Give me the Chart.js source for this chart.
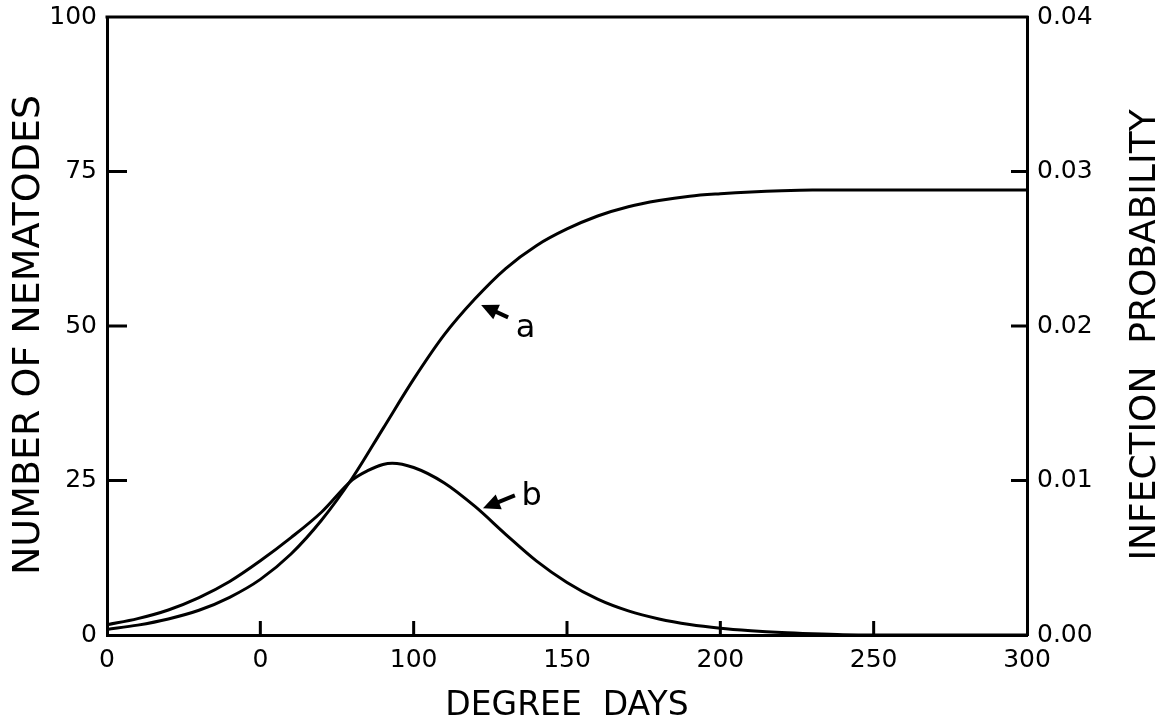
<!DOCTYPE html>
<html>
<head>
<meta charset="utf-8">
<script src="https://cdn.jsdelivr.net/npm/chart.js@4.4.1/dist/chart.umd.min.js"></script>
<style>
  html, body { margin: 0; padding: 0; background: #fff; }
  #wrap { width: 1167px; height: 725px; }
</style>
</head>
<body>
<div id="wrap"><canvas id="nematodeChart" width="1167" height="725"></canvas></div>
<script>
/**************************************************
 * DATA
 **************************************************/
// curve a : number of nematodes (left axis)
const degreeDaysA = [0, 10, 20, 30, 40, 50, 60, 70, 80, 90, 100, 110, 120, 130, 140, 150,
  160, 170, 180, 190, 200, 210, 220, 230, 240, 250, 260, 270, 280, 290, 300];
const nematodesA = [0.9, 1.6, 2.6, 4.0, 6.1, 9.0, 13.1, 18.6, 25.4, 33.4, 41.4, 48.6, 54.4, 59.3, 63.0, 65.7,
  67.8, 69.3, 70.3, 71.0, 71.4, 71.7, 71.9, 72, 72, 72, 72, 72, 72, 72, 72];

// curve b : infection probability (right axis)
const degreeDaysB = [0, 10, 20, 30, 40, 50, 60, 70, 80, 85, 90, 93, 100, 110, 120, 130, 140,
  150, 160, 170, 180, 190, 200, 210, 220, 230, 240, 250, 300];
const probabilityB = [0.00066, 0.00106, 0.00162, 0.00242, 0.00346, 0.0048, 0.0063, 0.00796, 0.01004,
  0.01064, 0.01104, 0.01112, 0.01084, 0.00984, 0.00832, 0.00652, 0.0048, 0.0034, 0.00232, 0.00156,
  0.00104, 0.00068, 0.00044, 0.00028, 0.00016, 0.00008, 0.00002, 0, 0];

// tick labels (as printed)
const xTickLabels = ["0", "0", "100", "150", "200", "250", "300"];
const xTickValues = [0, 50, 100, 150, 200, 250, 300];
const leftTickValues = [0, 25, 50, 75, 100];
const rightTickValues = [0, 0.01, 0.02, 0.03, 0.04];

// curve labels with arrow (data units of left axis)
const curveLabels = ["a", "b"];
const arrowHeads = [[122, 53.4], [122.6, 20.5]];
const arrowTails = [[130.8, 51.4], [133, 22.6]];
const labelSpots = [[136.5, 49.6], [138.5, 22.4]];

/**************************************************
 * DECORATIONS (frame top, inward ticks, titles, labels)
 **************************************************/
const decorations = {
  id: "decorations",
  afterDraw(chart) {
    const { ctx, chartArea, scales } = chart;
    const { x, y, y2 } = scales;
    ctx.save();
    ctx.strokeStyle = "#000";
    ctx.fillStyle = "#000";
    ctx.lineWidth = 3;

    // top of the frame
    ctx.beginPath();
    ctx.moveTo(chartArea.left - 1.5, chartArea.top);
    ctx.lineTo(chartArea.right + 1.5, chartArea.top);
    ctx.stroke();

    // inward ticks
    ctx.beginPath();
    [25, 50, 75].forEach(v => {
      const py = y.getPixelForValue(v);
      ctx.moveTo(chartArea.left, py);
      ctx.lineTo(chartArea.left + 20, py);
    });
    [0.01, 0.02, 0.03].forEach(v => {
      const py = y2.getPixelForValue(v);
      ctx.moveTo(chartArea.right, py);
      ctx.lineTo(chartArea.right - 16, py);
    });
    [50, 100, 150, 200, 250].forEach(v => {
      const px = x.getPixelForValue(v);
      ctx.moveTo(px, chartArea.bottom);
      ctx.lineTo(px, chartArea.bottom - 14);
    });
    ctx.stroke();

    // axis titles
    const midY = (chartArea.top + chartArea.bottom) / 2 + 9;
    ctx.textAlign = "center";
    ctx.textBaseline = "middle";

    ctx.font = '38px "DejaVu Sans"';
    ctx.save();
    ctx.translate(29, midY);
    ctx.rotate(-Math.PI / 2);
    ctx.fillText("NUMBER OF NEMATODES", 0, 0);
    ctx.restore();

    ctx.font = '36px "DejaVu Sans"';
    ctx.save();
    ctx.translate(1146, midY);
    ctx.rotate(-Math.PI / 2);
    ctx.fillText("INFECTION  PROBABILITY", 0, 0);
    ctx.restore();

    ctx.font = '33px "DejaVu Sans"';
    ctx.fillText("DEGREE  DAYS", (chartArea.left + chartArea.right) / 2, chartArea.bottom + 71);

    // curve labels and arrows
    ctx.font = '32px "DejaVu Sans"';
    curveLabels.forEach((txt, i) => {
      const hx = x.getPixelForValue(arrowHeads[i][0]);
      const hy = y.getPixelForValue(arrowHeads[i][1]);
      const tx = x.getPixelForValue(arrowTails[i][0]);
      const ty = y.getPixelForValue(arrowTails[i][1]);
      const ang = Math.atan2(hy - ty, hx - tx);
      const c = Math.cos(ang), s = Math.sin(ang);
      ctx.lineWidth = 4;
      ctx.beginPath();
      ctx.moveTo(tx, ty);
      ctx.lineTo(hx - 10 * c, hy - 10 * s);
      ctx.stroke();
      ctx.beginPath();
      ctx.moveTo(hx, hy);
      ctx.lineTo(hx - 17 * c + 8 * s, hy - 17 * s - 8 * c);
      ctx.lineTo(hx - 17 * c - 8 * s, hy - 17 * s + 8 * c);
      ctx.closePath();
      ctx.fill();
      ctx.fillText(txt, x.getPixelForValue(labelSpots[i][0]), y.getPixelForValue(labelSpots[i][1]));
    });

    ctx.restore();
  }
};

/**************************************************
 * CHART
 **************************************************/
const tickFont = { family: "DejaVu Sans", size: 25 };

// vertical axes: no extra room for the end labels, the layout padding handles it
function fitVertical(width) {
  return s => {
    s.width = width;
    s.paddingTop = 0;
    s.paddingBottom = 0;
  };
}

new Chart(document.getElementById("nematodeChart").getContext("2d"), {
  type: "line",
  data: {
    datasets: [
      {
        label: "a",
        data: degreeDaysA.map((d, i) => ({ x: d, y: nematodesA[i] })),
        yAxisID: "y",
        borderColor: "#000",
        borderWidth: 3,
        pointRadius: 0,
        cubicInterpolationMode: "monotone",
        fill: false
      },
      {
        label: "b",
        data: degreeDaysB.map((d, i) => ({ x: d, y: probabilityB[i] })),
        yAxisID: "y2",
        borderColor: "#000",
        borderWidth: 3,
        pointRadius: 0,
        cubicInterpolationMode: "monotone",
        fill: false
      }
    ]
  },
  options: {
    responsive: false,
    animation: false,
    layout: { padding: { top: 17, left: 0, right: 0, bottom: 0 } },
    plugins: {
      legend: { display: false },
      tooltip: { enabled: false }
    },
    scales: {
      x: {
        type: "linear",
        min: 0,
        max: 300,
        afterFit: s => { s.height = 90; s.paddingLeft = 0; s.paddingRight = 0; },
        afterBuildTicks: s => { s.ticks = xTickValues.map(v => ({ value: v })); },
        grid: { display: false, drawTicks: false },
        border: { display: true, color: "#000", width: 3 },
        ticks: {
          color: "#000",
          font: tickFont,
          padding: 10,
          maxRotation: 0,
          autoSkip: false,
          callback: (v) => xTickLabels[xTickValues.indexOf(v)]
        }
      },
      y: {
        type: "linear",
        position: "left",
        min: 0,
        max: 100,
        afterFit: fitVertical(107),
        afterBuildTicks: s => { s.ticks = leftTickValues.map(v => ({ value: v })); },
        grid: { display: false, drawTicks: false },
        border: { display: true, color: "#000", width: 3 },
        ticks: { color: "#000", font: tickFont, padding: 10 }
      },
      y2: {
        type: "linear",
        position: "right",
        min: 0,
        max: 0.04,
        afterFit: fitVertical(140),
        afterBuildTicks: s => { s.ticks = rightTickValues.map(v => ({ value: v })); },
        grid: { display: false, drawTicks: false },
        border: { display: true, color: "#000", width: 3 },
        ticks: {
          color: "#000",
          font: tickFont,
          padding: 10,
          callback: v => v.toFixed(2)
        }
      }
    }
  },
  plugins: [decorations]
});
</script>
</body>
</html>
